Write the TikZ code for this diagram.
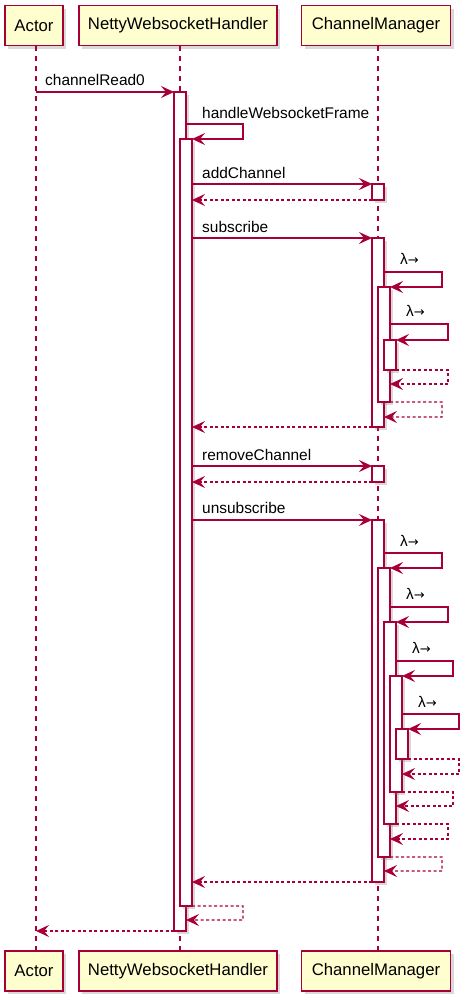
\documentclass[tikz,border=0pt]{standalone}
\usepackage{fontspec}
\setmainfont{Liberation Sans}
\newfontfamily\arrfont{DejaVu Sans}
\usetikzlibrary{arrows.meta,shadows}
\definecolor{crim}{HTML}{A80036}
\definecolor{pfill}{HTML}{FEFECE}
\tikzset{
  head/.style={draw=crim, fill=pfill, line width=1.6bp, minimum height=40bp, inner sep=0pt,
    font=\fontsize{16.8}{20}\selectfont, drop shadow={shadow xshift=3bp, shadow yshift=-3bp, opacity=0.3}},
  lifeline/.style={draw=crim, line width=1.1bp, dash pattern=on 5bp off 5bp},
  act/.style={draw=crim, fill=white, line width=1.1bp, minimum width=12bp, inner sep=0pt, outer sep=0pt,
    drop shadow={shadow xshift=3bp, shadow yshift=-3bp, opacity=0.3}},
  msg/.style={draw=crim, line width=1.1bp, -{Stealth[length=13bp,width=12bp,inset=5bp]}},
  ret/.style={msg, dash pattern=on 3bp off 2.5bp},
  lbl/.style={anchor=base west, inner sep=0pt, font=\fontsize{15.5}{18}\selectfont},
}
\newcommand\lam{λ{\arrfont\fontsize{13}{15}\selectfont →}}
\newcommand\actbox[4]{\node[act, minimum height={((#4)-(#3))*1bp}] (#1) at (#2,{((#3)+(#4))/2}) {};}
\begin{document}
\begin{tikzpicture}[x=1bp,y=-1bp]
\useasboundingbox (0,0) rectangle (466,1007);
% participants
\node[head, minimum width=58bp]  (hA) at (34,25.5) {Actor};
\node[head, minimum width=198bp] (hN) at (178,25.5) {NettyWebsocketHandler};
\node[head, minimum width=149bp] (hC) at (376,25.5) {ChannelManager};
\node[head, minimum width=58bp]  (fA) at (34,971) {Actor};
\node[head, minimum width=198bp] (fN) at (178,971) {NettyWebsocketHandler};
\node[head, minimum width=149bp] (fC) at (376,971) {ChannelManager};
% lifelines
\coordinate (lA) at (36,0);
\coordinate (lN) at (180,0);
\coordinate (lC) at (378,0);
\draw[lifeline] (lA |- hA.south) -- (lA |- fA.north);
\draw[lifeline] (lN |- hN.south) -- (lN |- fN.north);
\draw[lifeline] (lC |- hC.south) -- (lC |- fC.north);
% activations
\actbox{N1}{180}{92}{931}
\actbox{N2}{186}{139}{906}
\actbox{C1}{378}{184}{200}
\actbox{C2}{378}{238}{427}
\actbox{C3}{384}{287}{402}
\actbox{C4}{390}{340}{370}
\actbox{C5}{378}{466}{482}
\actbox{C6}{378}{520}{882}
\actbox{C7}{384}{568}{857}
\actbox{C8}{390}{622}{824}
\actbox{C9}{396}{676}{792}
\actbox{C10}{402}{729}{759}
% messages
\draw[msg] (lA |- 0,92) -- (N1.north west);
\node[lbl] (t1) at (45,85) {channelRead0};
\draw[msg] (N1.east |- 0,124) -- (243,124) -- (243,139) -- (N2.north east);
\node[lbl] (t2) at (202,118) {handleWebsocketFrame};
\draw[msg] (N2.east |- 0,184) -- (C1.north west);
\node[lbl] (t3) at (202,178) {addChannel};
\draw[ret] (C1.south west) -- (N2.east |- C1.south west);
\draw[msg] (N2.east |- 0,238) -- (C2.north west);
\node[lbl] (t4) at (202,232) {subscribe};
\draw[msg] (C2.east |- 0,272) -- (442,272) -- (442,287) -- (C3.north east);
\node[lbl] (t5) at (400,264) {\lam};
\draw[msg] (C3.east |- 0,324) -- (448,324) -- (448,340) -- (C4.north east);
\node[lbl] (t6) at (406,316) {\lam};
\draw[ret] (C4.south east) -- (448,370) -- (448,384) -- (C3.east |- 0,384);
\draw[ret] (C3.south east) -- (442,402) -- (442,417) -- (C2.east |- 0,417);
\draw[ret] (C2.south west) -- (N2.east |- C2.south west);
\draw[msg] (N2.east |- 0,466) -- (C5.north west);
\node[lbl] (t7) at (202,460) {removeChannel};
\draw[ret] (C5.south west) -- (N2.east |- C5.south west);
\draw[msg] (N2.east |- 0,520) -- (C6.north west);
\node[lbl] (t8) at (202,513) {unsubscribe};
\draw[msg] (C6.east |- 0,553) -- (442,553) -- (442,568) -- (C7.north east);
\node[lbl] (t9) at (400,546) {\lam};
\draw[msg] (C7.east |- 0,607) -- (448,607) -- (448,622) -- (C8.north east);
\node[lbl] (t10) at (406,599) {\lam};
\draw[msg] (C8.east |- 0,661) -- (453,661) -- (453,676) -- (C9.north east);
\node[lbl] (t11) at (412,653) {\lam};
\draw[msg] (C9.east |- 0,714) -- (459,714) -- (459,729) -- (C10.north east);
\node[lbl] (t12) at (418,707) {\lam};
\draw[ret] (C10.south east) -- (459,759) -- (459,774) -- (C9.east |- 0,774);
\draw[ret] (C9.south east) -- (453,792) -- (453,806) -- (C8.east |- 0,806);
\draw[ret] (C8.south east) -- (448,824) -- (448,839) -- (C7.east |- 0,839);
\draw[ret] (C7.south east) -- (442,857) -- (442,871) -- (C6.east |- 0,871);
\draw[ret] (C6.south west) -- (N2.east |- C6.south west);
\draw[ret] (N2.south east) -- (243,906) -- (243,920) -- (N1.east |- 0,920);
\draw[ret] (N1.south west) -- (lA |- N1.south west);
\end{tikzpicture}
\end{document}
